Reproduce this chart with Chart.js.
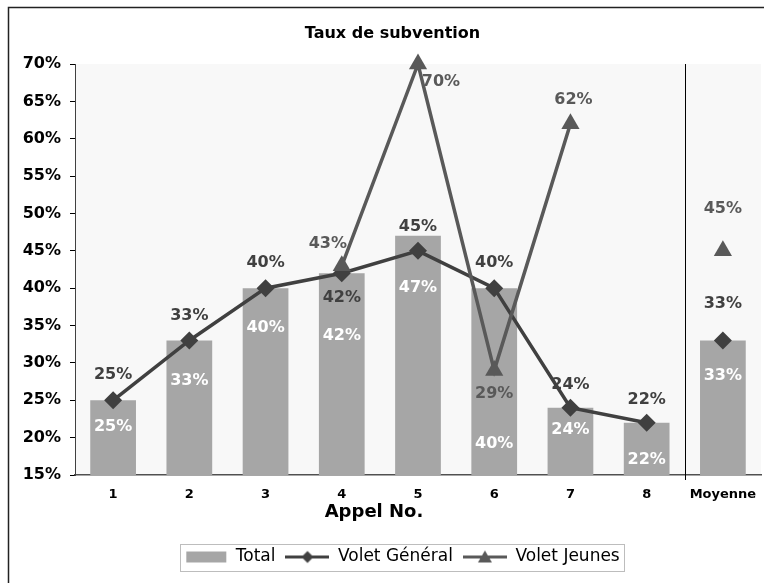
<!DOCTYPE html>
<html><head><meta charset="utf-8">
<script src="https://cdn.jsdelivr.net/npm/chart.js@4.4.1/dist/chart.umd.min.js"></script>
<style>html,body{margin:0;padding:0;background:#fff}#wrap{width:764px;height:583px}</style>
</head><body><div id="wrap"><canvas id="c" width="764" height="583"></canvas></div>
<script>
// ---- data ----
const categories = ['1','2','3','4','5','6','7','8','Moyenne'];
const totalValues = [25,33,40,42,47,40,24,22,33];
const generalValues = [25,33,40,42,45,40,24,22,33];
const jeunesValues = [null,null,null,43,70,29,62,null,45];
const yTickValues = [15,20,25,30,35,40,45,50,55,60,65,70];
const seriesNames = ['Total','Volet Général','Volet Jeunes'];

// ---- label placement (dx, dy from the mark) ----
const totalLabelOffsets = [[0,27],[0,40],[0,40],[0,63],[0,52],[0,156],[0,22],[0,37],[0,35]];
const generalLabelOffsets = [[0,-25],[0,-25],[0,-25],[0,25],[0,-24],[0,-25],[0,-23],[0,-23],[0,-37]];
const jeunesLabelOffsets = [null,null,null,[-14,-22],[23,18],[0,23],[3,-24],null,[0,-42]];
const LEGEND_SHIFT = 21;
const TITLE_SHIFT = 12;
const XTITLE_SHIFT = -44;

const COL_BAR = '#A6A6A6', COL_GEN = '#404040', COL_JEU = '#595959';
const FONT = 'DejaVu Sans';
Chart.defaults.font.family = FONT;

function legendMarker(kind){
  const c = document.createElement('canvas'); c.width = 44; c.height = 17;
  const g = c.getContext('2d');
  if (kind === 'bar') { g.fillStyle = COL_BAR; g.fillRect(3, 3, 40, 11); return c; }
  const col = kind === 'gen' ? COL_GEN : COL_JEU;
  g.strokeStyle = col; g.lineWidth = 3; g.beginPath(); g.moveTo(0, 8.5); g.lineTo(44, 8.5); g.stroke();
  g.fillStyle = col; g.beginPath();
  if (kind === 'gen') { g.moveTo(22, 2.5); g.lineTo(28, 8.5); g.lineTo(22, 14.5); g.lineTo(16, 8.5); }
  else { g.moveTo(22, 2); g.lineTo(29, 14); g.lineTo(15, 14); }
  g.closePath(); g.fill();
  return c;
}
const legendMarkers = [legendMarker('bar'), legendMarker('gen'), legendMarker('jeu')];

const decor = {
  id: 'decor',
  afterLayout(chart) {
    const lg = chart.legend;
    if (lg) {
      lg.left += LEGEND_SHIFT; lg.right += LEGEND_SHIFT;
      (lg.legendHitBoxes || []).forEach(h => { h.left += LEGEND_SHIFT; });
    }
    const tb = chart.titleBlock;
    if (tb) { tb.left += TITLE_SHIFT; tb.right += TITLE_SHIFT; }
    const xs = chart.scales.x;
    if (xs && !xs._titleShifted) {
      const orig = xs.drawTitle.bind(xs);
      xs.drawTitle = function () {
        const l = this.left, r = this.right;
        this.left = l + XTITLE_SHIFT; this.right = r + XTITLE_SHIFT;
        orig();
        this.left = l; this.right = r;
      };
      xs._titleShifted = true;
    }
  },
  beforeDraw(chart) {
    const {ctx, chartArea: a} = chart;
    ctx.save();
    ctx.fillStyle = '#fff'; ctx.fillRect(0, 0, chart.width, chart.height);
    ctx.fillStyle = '#F8F8F8'; ctx.fillRect(a.left, a.top, a.right - a.left, a.bottom - a.top);
    ctx.restore();
  },
  beforeDatasetsDraw(chart) {
    const {ctx, chartArea: a} = chart;
    const xs = chart.scales.x;
    const sx = Math.round((xs.getPixelForValue(categories.length - 2) + xs.getPixelForValue(categories.length - 1)) / 2) + 0.5;
    ctx.save();
    ctx.strokeStyle = '#000'; ctx.lineWidth = 1;
    ctx.beginPath(); ctx.moveTo(sx, a.top); ctx.lineTo(sx, a.bottom + 5); ctx.stroke();
    ctx.restore();
  },
  afterDatasetsDraw(chart) {
    const {ctx} = chart;
    const sets = [
      {vals: totalValues, off: totalLabelOffsets, color: '#FFFFFF'},
      {vals: generalValues, off: generalLabelOffsets, color: COL_GEN},
      {vals: jeunesValues, off: jeunesLabelOffsets, color: COL_JEU}
    ];
    ctx.save();
    ctx.font = 'bold 16px "' + FONT + '"';
    ctx.textAlign = 'center'; ctx.textBaseline = 'middle';
    sets.forEach((s, di) => {
      const meta = chart.getDatasetMeta(di);
      meta.data.forEach((el, i) => {
        const v = s.vals[i];
        if (v === null || v === undefined || !s.off[i]) return;
        ctx.fillStyle = s.color;
        ctx.fillText(v + '%', el.x + s.off[i][0], el.y + s.off[i][1]);
      });
    });
    ctx.restore();
  },
  afterDraw(chart) {
    const {ctx} = chart;
    ctx.save();
    const hb = chart.legend.legendHitBoxes;
    if (hb && hb.length) {
      const l = Math.min(...hb.map(h => h.left)) - 3;
      const r = Math.max(...hb.map(h => h.left + h.width)) + 5;
      const t = hb[0].top - 4.5;
      const b = hb[0].top + hb[0].height + 5.5;
      ctx.strokeStyle = '#BDBDBD'; ctx.lineWidth = 1;
      ctx.strokeRect(Math.round(l) + 0.5, Math.round(t) + 0.5, Math.round(r - l), Math.round(b - t));
    }
    ctx.strokeStyle = '#222'; ctx.lineWidth = 1.5;
    ctx.strokeRect(8.5, 7.5, 900, 700);
    ctx.restore();
  }
};

new Chart(document.getElementById('c'), {
  type: 'bar',
  data: {
    labels: categories,
    datasets: [
      { type: 'bar', label: seriesNames[0], data: totalValues, backgroundColor: COL_BAR,
        barPercentage: 0.6, categoryPercentage: 1, order: 3 },
      { type: 'line', label: seriesNames[1], data: generalValues, borderColor: COL_GEN, backgroundColor: COL_GEN,
        borderWidth: 3.5, pointStyle: 'rectRot', pointRadius: 9, pointBorderWidth: 0, pointBackgroundColor: COL_GEN,
        tension: 0, clip: false, order: 2,
        segment: { borderColor: c => c.p1DataIndex === categories.length - 1 ? 'rgba(0,0,0,0)' : undefined } },
      { type: 'line', label: seriesNames[2], data: jeunesValues, borderColor: COL_JEU, backgroundColor: COL_JEU,
        borderWidth: 3.5, pointStyle: 'triangle', pointRadius: 10.5, pointBorderWidth: 0, pointBackgroundColor: COL_JEU,
        tension: 0, spanGaps: false, clip: false, order: 1 }
    ]
  },
  options: {
    responsive: false,
    animation: false,
    devicePixelRatio: 1,
    layout: { autoPadding: false, padding: { top: 8, left: 0, right: 3, bottom: 7.5 } },
    plugins: {
      title: { display: true, text: 'Taux de subvention', color: '#000',
        font: { family: FONT, size: 16, weight: 'bold' }, padding: { top: 16, bottom: 20.8 } },
      legend: {
        position: 'bottom',
        labels: {
          color: '#000', font: { family: FONT, size: 17 }, padding: 10,
          usePointStyle: true, pointStyleWidth: 44,
          sort: (a, b) => a.datasetIndex - b.datasetIndex,
          generateLabels(chart) {
            const items = Chart.defaults.plugins.legend.labels.generateLabels(chart);
            items.forEach(it => { it.pointStyle = legendMarkers[it.datasetIndex]; });
            return items;
          }
        }
      },
      tooltip: { enabled: false }
    },
    scales: {
      x: {
        grid: { display: false, drawTicks: false },
        border: { display: true, color: '#505050', width: 1.5 },
        ticks: { color: '#000', font: { family: FONT, size: 13, weight: 'bold' }, padding: 12, maxRotation: 0, autoSkip: false },
        title: { display: true, text: 'Appel No.', color: '#000',
          font: { family: FONT, size: 18, weight: 'bold' }, padding: { top: 0, bottom: 15.7 } },
        afterFit(s) { s.height = 63.5; s.paddingLeft = 0; s.paddingRight = 0; }
      },
      y: {
        min: 15, max: 70,
        afterBuildTicks(s) { s.ticks = yTickValues.map(v => ({ value: v })); },
        grid: { display: true, drawOnChartArea: false, drawTicks: true, tickLength: 5, color: '#000' },
        border: { display: true, color: '#404040', width: 1 },
        ticks: { color: '#000', font: { family: FONT, size: 16, weight: 'bold' }, padding: 9,
          callback: v => v + '%' },
        afterFit(s) { s.width = 75; }
      }
    }
  },
  plugins: [decor]
});
</script>
</body></html>
